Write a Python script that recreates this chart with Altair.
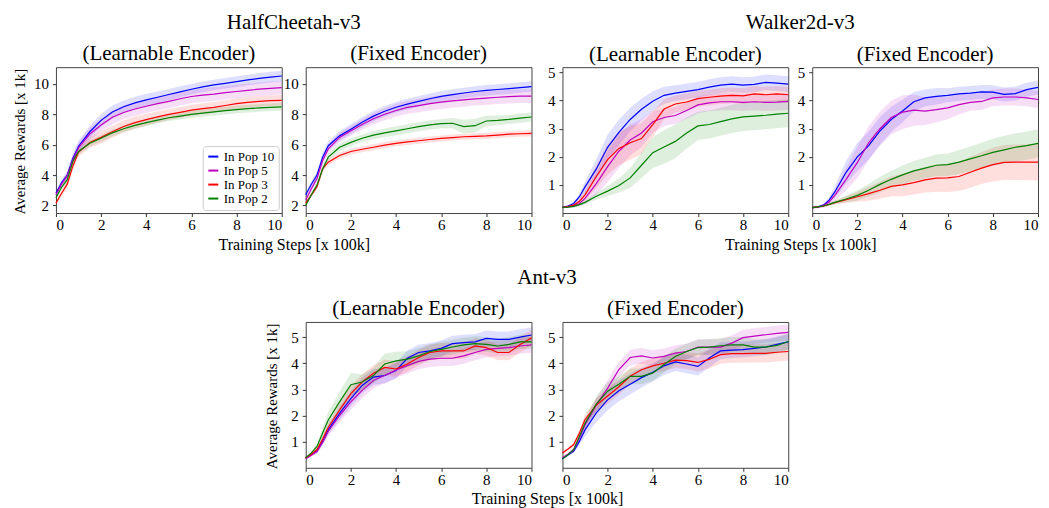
import altair as alt
import pandas as pd

X = [0, 0.25, 0.5, 0.75, 1, 1.5, 2, 2.5, 3, 3.5, 4, 4.5, 5, 5.5, 6, 6.5, 7, 7.5, 8, 8.5, 9, 9.5, 10]
SERIES = ["In Pop 10", "In Pop 5", "In Pop 3", "In Pop 2"]
BANDS = ["band 10", "band 5", "band 3", "band 2"]
COLORS = ["#0000ff", "#bf00bf", "#ff0000", "#008000"]
X_TICKS = [0, 2, 4, 6, 8, 10]
ENVS = ["HalfCheetah-v3", "Walker2d-v3", "Ant-v3"]
SUBTITLES = ["(Learnable Encoder)", "(Fixed Encoder)"]
X_TITLE = "Training Steps [x 100k]"
Y_TITLE = "Average Rewards [x 1k]"

# ---------------- HalfCheetah-v3, learnable encoder ----------------
hc_l_10 = [2.8, 3.5, 4.0, 5.1, 5.9, 6.85, 7.6, 8.15, 8.5, 8.75, 8.95, 9.12, 9.3, 9.48, 9.65, 9.8, 9.93, 10.04, 10.15, 10.26, 10.36, 10.45, 10.52]
hc_l_5 = [2.7, 3.4, 3.95, 5.0, 5.8, 6.7, 7.3, 7.8, 8.12, 8.35, 8.53, 8.7, 8.85, 9.02, 9.17, 9.26, 9.33, 9.42, 9.5, 9.58, 9.65, 9.71, 9.76]
hc_l_3 = [2.15, 2.8, 3.4, 4.6, 5.5, 6.15, 6.48, 6.85, 7.2, 7.45, 7.65, 7.83, 7.99, 8.13, 8.27, 8.37, 8.46, 8.58, 8.7, 8.78, 8.85, 8.9, 8.92]
hc_l_2 = [2.5, 3.2, 3.7, 4.9, 5.55, 6.1, 6.42, 6.78, 7.05, 7.27, 7.45, 7.62, 7.77, 7.88, 7.99, 8.08, 8.16, 8.24, 8.31, 8.37, 8.42, 8.46, 8.49]
hc_l_10_sd = [0.15, 0.2, 0.25, 0.3, 0.35, 0.4, 0.42, 0.42, 0.4, 0.4, 0.4, 0.38, 0.37, 0.36, 0.35, 0.35, 0.35, 0.35, 0.35, 0.35, 0.35, 0.35, 0.35]
hc_l_5_sd = [0.15, 0.2, 0.25, 0.3, 0.35, 0.4, 0.42, 0.45, 0.45, 0.45, 0.45, 0.45, 0.45, 0.45, 0.45, 0.45, 0.45, 0.45, 0.45, 0.45, 0.45, 0.45, 0.45]
hc_l_3_sd = [0.15, 0.2, 0.25, 0.3, 0.3, 0.35, 0.4, 0.4, 0.4, 0.4, 0.38, 0.37, 0.36, 0.35, 0.35, 0.35, 0.35, 0.35, 0.35, 0.35, 0.35, 0.35, 0.35]
hc_l_2_sd = [0.1, 0.15, 0.2, 0.2, 0.2, 0.2, 0.22, 0.22, 0.22, 0.22, 0.22, 0.22, 0.22, 0.23, 0.23, 0.24, 0.24, 0.25, 0.25, 0.25, 0.25, 0.25, 0.25]

# ---------------- HalfCheetah-v3, fixed encoder ----------------
hc_f_10 = [2.7, 3.4, 4.0, 5.18, 5.93, 6.58, 7.02, 7.48, 7.88, 8.2, 8.46, 8.67, 8.85, 9.02, 9.18, 9.3, 9.4, 9.5, 9.57, 9.63, 9.69, 9.76, 9.82]
hc_f_5 = [2.37, 3.1, 3.77, 4.96, 5.72, 6.48, 6.91, 7.33, 7.71, 8.0, 8.25, 8.45, 8.57, 8.7, 8.8, 8.88, 8.95, 9.02, 9.07, 9.12, 9.16, 9.19, 9.2]
hc_f_3 = [2.15, 2.7, 3.23, 4.42, 4.85, 5.29, 5.55, 5.7, 5.83, 5.97, 6.09, 6.18, 6.26, 6.34, 6.41, 6.47, 6.52, 6.55, 6.58, 6.63, 6.69, 6.72, 6.74]
hc_f_2 = [2.0, 2.7, 3.34, 4.4, 5.18, 5.83, 6.15, 6.42, 6.63, 6.78, 6.91, 7.05, 7.19, 7.3, 7.38, 7.41, 7.19, 7.25, 7.56, 7.6, 7.66, 7.75, 7.82]
hc_f_10_sd = [0.15, 0.2, 0.25, 0.3, 0.3, 0.3, 0.32, 0.33, 0.34, 0.35, 0.35, 0.35, 0.35, 0.35, 0.35, 0.35, 0.35, 0.35, 0.35, 0.35, 0.35, 0.35, 0.35]
hc_f_5_sd = [0.15, 0.2, 0.25, 0.3, 0.3, 0.3, 0.32, 0.35, 0.38, 0.4, 0.42, 0.43, 0.44, 0.45, 0.45, 0.45, 0.45, 0.45, 0.45, 0.45, 0.45, 0.45, 0.45]
hc_f_3_sd = [0.1, 0.15, 0.2, 0.2, 0.2, 0.2, 0.2, 0.2, 0.2, 0.2, 0.2, 0.2, 0.2, 0.2, 0.2, 0.2, 0.2, 0.2, 0.2, 0.2, 0.2, 0.2, 0.2]
hc_f_2_sd = [0.1, 0.15, 0.2, 0.25, 0.25, 0.25, 0.25, 0.25, 0.27, 0.28, 0.3, 0.3, 0.3, 0.3, 0.3, 0.35, 0.45, 0.45, 0.35, 0.32, 0.3, 0.3, 0.3]

# ---------------- Walker2d-v3, learnable encoder ----------------
wk_l_10 = [0.2, 0.25, 0.34, 0.58, 0.93, 1.57, 2.34, 2.87, 3.33, 3.69, 3.98, 4.19, 4.27, 4.33, 4.39, 4.48, 4.55, 4.59, 4.55, 4.58, 4.65, 4.62, 4.59]
wk_l_5 = [0.2, 0.22, 0.26, 0.34, 0.52, 1.05, 1.65, 2.2, 2.6, 2.85, 3.25, 3.4, 3.47, 3.65, 3.85, 3.92, 3.96, 3.96, 3.94, 3.96, 3.94, 3.95, 3.97]
wk_l_3 = [0.2, 0.23, 0.28, 0.42, 0.65, 1.3, 1.9, 2.3, 2.5, 2.65, 3.15, 3.7, 3.88, 3.95, 4.07, 4.12, 4.16, 4.19, 4.17, 4.24, 4.21, 4.24, 4.21]
wk_l_2 = [0.2, 0.21, 0.24, 0.3, 0.38, 0.6, 0.78, 0.98, 1.25, 1.7, 2.15, 2.35, 2.55, 2.85, 3.1, 3.15, 3.25, 3.35, 3.42, 3.45, 3.48, 3.52, 3.55]
wk_l_10_sd = [0.03, 0.04, 0.06, 0.1, 0.2, 0.35, 0.45, 0.45, 0.42, 0.38, 0.35, 0.3, 0.28, 0.28, 0.28, 0.28, 0.28, 0.28, 0.28, 0.28, 0.28, 0.28, 0.28]
wk_l_5_sd = [0.03, 0.04, 0.06, 0.1, 0.2, 0.4, 0.55, 0.6, 0.55, 0.5, 0.4, 0.3, 0.3, 0.3, 0.3, 0.3, 0.3, 0.3, 0.3, 0.3, 0.3, 0.3, 0.3]
wk_l_3_sd = [0.03, 0.04, 0.06, 0.1, 0.2, 0.4, 0.55, 0.6, 0.6, 0.55, 0.45, 0.35, 0.3, 0.3, 0.28, 0.28, 0.28, 0.28, 0.28, 0.28, 0.28, 0.28, 0.28]
wk_l_2_sd = [0.03, 0.03, 0.04, 0.05, 0.07, 0.12, 0.18, 0.25, 0.35, 0.45, 0.55, 0.6, 0.6, 0.55, 0.5, 0.5, 0.5, 0.5, 0.5, 0.5, 0.5, 0.5, 0.5]

# ---------------- Walker2d-v3, fixed encoder ----------------
wk_f_10 = [0.19, 0.22, 0.28, 0.46, 0.75, 1.45, 2.0, 2.4, 2.92, 3.33, 3.63, 3.96, 4.1, 4.15, 4.19, 4.24, 4.27, 4.31, 4.3, 4.22, 4.25, 4.39, 4.47]
wk_f_5 = [0.19, 0.21, 0.26, 0.4, 0.63, 1.2, 1.8, 2.5, 3.0, 3.4, 3.59, 3.66, 3.63, 3.68, 3.74, 3.86, 3.94, 3.97, 4.1, 4.13, 4.13, 4.1, 4.04]
wk_f_3 = [0.19, 0.22, 0.25, 0.31, 0.37, 0.48, 0.58, 0.69, 0.81, 0.95, 1.0, 1.08, 1.18, 1.24, 1.25, 1.3, 1.45, 1.6, 1.72, 1.8, 1.81, 1.81, 1.81]
wk_f_2 = [0.19, 0.22, 0.25, 0.31, 0.38, 0.5, 0.63, 0.81, 1.02, 1.2, 1.36, 1.5, 1.6, 1.7, 1.72, 1.81, 1.93, 2.04, 2.16, 2.25, 2.34, 2.4, 2.48]
wk_f_10_sd = [0.03, 0.04, 0.06, 0.1, 0.2, 0.4, 0.5, 0.5, 0.5, 0.45, 0.4, 0.35, 0.3, 0.3, 0.25, 0.25, 0.25, 0.25, 0.25, 0.25, 0.25, 0.25, 0.25]
wk_f_5_sd = [0.03, 0.04, 0.06, 0.1, 0.2, 0.4, 0.55, 0.6, 0.6, 0.6, 0.6, 0.55, 0.5, 0.45, 0.4, 0.35, 0.3, 0.3, 0.3, 0.3, 0.3, 0.3, 0.3]
wk_f_3_sd = [0.03, 0.03, 0.04, 0.05, 0.07, 0.12, 0.18, 0.25, 0.3, 0.35, 0.4, 0.42, 0.45, 0.48, 0.5, 0.52, 0.55, 0.57, 0.6, 0.62, 0.63, 0.64, 0.65]
wk_f_2_sd = [0.03, 0.03, 0.04, 0.05, 0.07, 0.12, 0.18, 0.22, 0.27, 0.3, 0.33, 0.35, 0.37, 0.38, 0.4, 0.42, 0.44, 0.46, 0.48, 0.5, 0.5, 0.5, 0.5]

# ---------------- Ant-v3, learnable encoder ----------------
ant_l_10 = [0.38, 0.51, 0.64, 1.01, 1.45, 2.08, 2.65, 3.15, 3.47, 3.53, 3.72, 4.19, 4.41, 4.47, 4.57, 4.75, 4.79, 4.82, 4.95, 4.91, 4.91, 5.0, 5.08]
ant_l_5 = [0.35, 0.48, 0.62, 0.97, 1.4, 2.0, 2.52, 2.96, 3.34, 3.53, 3.74, 3.91, 4.07, 4.16, 4.19, 4.19, 4.28, 4.41, 4.53, 4.57, 4.6, 4.66, 4.7]
ant_l_3 = [0.38, 0.52, 0.7, 1.1, 1.55, 2.21, 2.84, 3.28, 3.62, 3.84, 3.78, 3.97, 4.22, 4.41, 4.47, 4.47, 4.47, 4.66, 4.6, 4.41, 4.41, 4.72, 4.97]
ant_l_2 = [0.38, 0.57, 0.82, 1.33, 1.83, 2.52, 3.18, 3.28, 3.53, 3.97, 4.09, 4.16, 4.28, 4.45, 4.53, 4.62, 4.7, 4.75, 4.72, 4.66, 4.72, 4.82, 4.82]
ant_l_10_sd = [0.05, 0.06, 0.08, 0.12, 0.18, 0.25, 0.3, 0.3, 0.3, 0.3, 0.3, 0.3, 0.3, 0.3, 0.3, 0.3, 0.3, 0.3, 0.3, 0.3, 0.3, 0.3, 0.3]
ant_l_5_sd = [0.05, 0.06, 0.08, 0.12, 0.18, 0.25, 0.3, 0.3, 0.3, 0.3, 0.3, 0.3, 0.3, 0.3, 0.3, 0.3, 0.3, 0.3, 0.3, 0.3, 0.3, 0.3, 0.3]
ant_l_3_sd = [0.05, 0.06, 0.08, 0.12, 0.18, 0.25, 0.3, 0.3, 0.3, 0.3, 0.3, 0.3, 0.3, 0.3, 0.3, 0.3, 0.3, 0.3, 0.3, 0.3, 0.3, 0.3, 0.3]
ant_l_2_sd = [0.05, 0.07, 0.1, 0.2, 0.3, 0.4, 0.45, 0.3, 0.3, 0.4, 0.35, 0.3, 0.3, 0.28, 0.28, 0.28, 0.28, 0.28, 0.28, 0.28, 0.28, 0.28, 0.28]

# ---------------- Ant-v3, fixed encoder ----------------
ant_f_10 = [0.35, 0.5, 0.64, 1.01, 1.45, 2.1, 2.6, 2.95, 3.2, 3.45, 3.65, 3.9, 4.05, 3.97, 3.88, 4.2, 4.47, 4.5, 4.52, 4.57, 4.62, 4.72, 4.82]
ant_f_5 = [0.38, 0.52, 0.7, 1.14, 1.64, 2.4, 3.05, 3.76, 4.22, 4.28, 4.2, 4.26, 4.39, 4.45, 4.62, 4.62, 4.62, 4.77, 4.98, 5.04, 5.09, 5.14, 5.18]
ant_f_3 = [0.57, 0.72, 0.89, 1.33, 1.85, 2.4, 2.75, 3.1, 3.5, 3.75, 3.9, 4.0, 4.12, 4.1, 4.03, 4.15, 4.33, 4.37, 4.37, 4.38, 4.38, 4.42, 4.45]
ant_f_2 = [0.35, 0.5, 0.7, 1.2, 1.7, 2.45, 2.93, 3.2, 3.5, 3.5, 3.63, 3.95, 4.26, 4.45, 4.6, 4.62, 4.67, 4.7, 4.7, 4.62, 4.62, 4.68, 4.83]
ant_f_10_sd = [0.05, 0.06, 0.08, 0.15, 0.25, 0.35, 0.4, 0.4, 0.4, 0.38, 0.35, 0.35, 0.35, 0.35, 0.35, 0.35, 0.32, 0.3, 0.3, 0.3, 0.3, 0.3, 0.3]
ant_f_5_sd = [0.05, 0.06, 0.08, 0.12, 0.18, 0.25, 0.3, 0.3, 0.3, 0.3, 0.3, 0.3, 0.3, 0.3, 0.3, 0.3, 0.3, 0.3, 0.3, 0.3, 0.3, 0.3, 0.3]
ant_f_3_sd = [0.05, 0.06, 0.08, 0.12, 0.18, 0.25, 0.3, 0.3, 0.3, 0.3, 0.3, 0.3, 0.3, 0.32, 0.35, 0.35, 0.35, 0.35, 0.35, 0.35, 0.35, 0.35, 0.35]
ant_f_2_sd = [0.05, 0.06, 0.08, 0.12, 0.2, 0.3, 0.35, 0.3, 0.3, 0.3, 0.3, 0.3, 0.3, 0.3, 0.3, 0.3, 0.3, 0.3, 0.3, 0.3, 0.3, 0.3, 0.3]

FONT = "Liberation Serif"
PW, PH = 226, 146
GAP_PAIR, GAP_GROUP = 24, 31


def make_df(means, sds):
    rows = []
    for name, bname, m, s in zip(SERIES, BANDS, means, sds):
        for x, v, d in zip(X, m, s):
            rows.append({"step": x, "series": name, "bandkey": bname,
                         "mean": v, "lo": v - d, "hi": v + d})
    return pd.DataFrame(rows)


def panel(df, ydom, yticks, subtitle, sub_offset, ytitle=None, legend=False):
    xenc = alt.X("step:Q", scale=alt.Scale(domain=[0, 10], nice=False, zero=False),
                 axis=alt.Axis(values=X_TICKS, format="d", title=None, labelPadding=1))
    yscale = alt.Scale(domain=ydom, nice=False, zero=False)
    if ytitle:
        yaxis = alt.Axis(values=yticks, format="d", title=ytitle, titlePadding=6, minExtent=20,
                         titleFontSize=15, titleY=PH / 2 + 1)
    else:
        yaxis = alt.Axis(values=yticks, format="d", title=None)
    base = alt.Chart(df)
    band = base.mark_area(opacity=0.13).encode(
        x=xenc,
        y=alt.Y("lo:Q", scale=yscale, axis=yaxis),
        y2="hi:Q",
        fill=alt.Fill("bandkey:N", scale=alt.Scale(domain=BANDS, range=COLORS), legend=None),
    )
    if legend:
        leg = alt.Legend(title=None, orient="bottom-right", offset=3, symbolType="stroke",
                         symbolStrokeWidth=2, symbolSize=100, labelFont=FONT, labelFontSize=13,
                         labelColor="black", strokeColor="#cccccc", fillColor="white",
                         padding=4, cornerRadius=3, rowPadding=0, labelOffset=4)
    else:
        leg = None
    line = base.mark_line(strokeWidth=1.2).encode(
        x=xenc,
        y=alt.Y("mean:Q", scale=yscale, axis=yaxis),
        color=alt.Color("series:N", scale=alt.Scale(domain=SERIES, range=COLORS), legend=leg),
    )
    return alt.layer(band, line).properties(
        width=PW, height=PH,
        title=alt.TitleParams(subtitle, font=FONT, fontSize=21, fontWeight="normal",
                              anchor="middle", offset=sub_offset, color="black"),
    )


def spacer(width, env=None):
    """Empty cell between two panels; carries the shared env title and x-axis title."""
    df = pd.DataFrame({"step": [5]})
    c = alt.Chart(df).mark_point(opacity=0)
    props = dict(width=width, height=PH, view=alt.ViewBackground(stroke="transparent"))
    if env:
        c = c.encode(x=alt.X("step:Q", scale=alt.Scale(domain=[0, 10]),
                             axis=alt.Axis(title=X_TITLE, labels=False, ticks=False, domain=False,
                                           minExtent=0, titlePadding=23, titleFontSize=16)))
        props["title"] = alt.TitleParams(env, font=FONT, fontSize=21, fontWeight="normal",
                                         anchor="middle", offset=34, color="black")
    else:
        c = c.encode(x=alt.X("step:Q", axis=None))
    return c.properties(**props)


hc1 = panel(make_df([hc_l_10, hc_l_5, hc_l_3, hc_l_2], [hc_l_10_sd, hc_l_5_sd, hc_l_3_sd, hc_l_2_sd]),
            [1.5, 11.1], [2, 4, 6, 8, 10], SUBTITLES[0], 3, ytitle=Y_TITLE, legend=True)
hc2 = panel(make_df([hc_f_10, hc_f_5, hc_f_3, hc_f_2], [hc_f_10_sd, hc_f_5_sd, hc_f_3_sd, hc_f_2_sd]),
            [1.5, 11.1], [2, 4, 6, 8, 10], SUBTITLES[1], 3)
wk1 = panel(make_df([wk_l_10, wk_l_5, wk_l_3, wk_l_2], [wk_l_10_sd, wk_l_5_sd, wk_l_3_sd, wk_l_2_sd]),
            [0, 5.19], [1, 2, 3, 4, 5], SUBTITLES[0], 1)
wk2 = panel(make_df([wk_f_10, wk_f_5, wk_f_3, wk_f_2], [wk_f_10_sd, wk_f_5_sd, wk_f_3_sd, wk_f_2_sd]),
            [0, 5.19], [1, 2, 3, 4, 5], SUBTITLES[1], 1)
an1 = panel(make_df([ant_l_10, ant_l_5, ant_l_3, ant_l_2], [ant_l_10_sd, ant_l_5_sd, ant_l_3_sd, ant_l_2_sd]),
            [0, 5.58], [1, 2, 3, 4, 5], SUBTITLES[0], 3, ytitle=Y_TITLE)
an2 = panel(make_df([ant_f_10, ant_f_5, ant_f_3, ant_f_2], [ant_f_10_sd, ant_f_5_sd, ant_f_3_sd, ant_f_2_sd]),
            [0, 5.58], [1, 2, 3, 4, 5], SUBTITLES[1], 3)

cells = [
    hc1, spacer(GAP_PAIR, ENVS[0]), hc2, spacer(GAP_GROUP), wk1, spacer(GAP_PAIR, ENVS[1]), wk2,
    spacer(PW), spacer(GAP_PAIR), an1, spacer(GAP_GROUP, ENVS[2]), an2,
]

chart = alt.concat(
    *cells, columns=7, bounds="flush",
    spacing=alt.RowColnumber(row=109, column=0),
).resolve_scale(
    color="independent", fill="independent", x="independent", y="independent"
).resolve_legend(
    color="independent", fill="independent"
).configure(
    padding={"left": 3, "top": 3, "right": 0, "bottom": 0}
).configure_view(
    stroke="#444444", strokeWidth=1
).configure_axis(
    labelFont=FONT, labelFontSize=15, labelColor="black", titleFont=FONT, titleFontSize=16,
    titleFontWeight="normal", titleColor="black", grid=False, domain=False,
    tickColor="#333333", tickSize=3.5, labelPadding=4
)

chart.save("out.html", embed_options={"renderer": "svg", "actions": False})
